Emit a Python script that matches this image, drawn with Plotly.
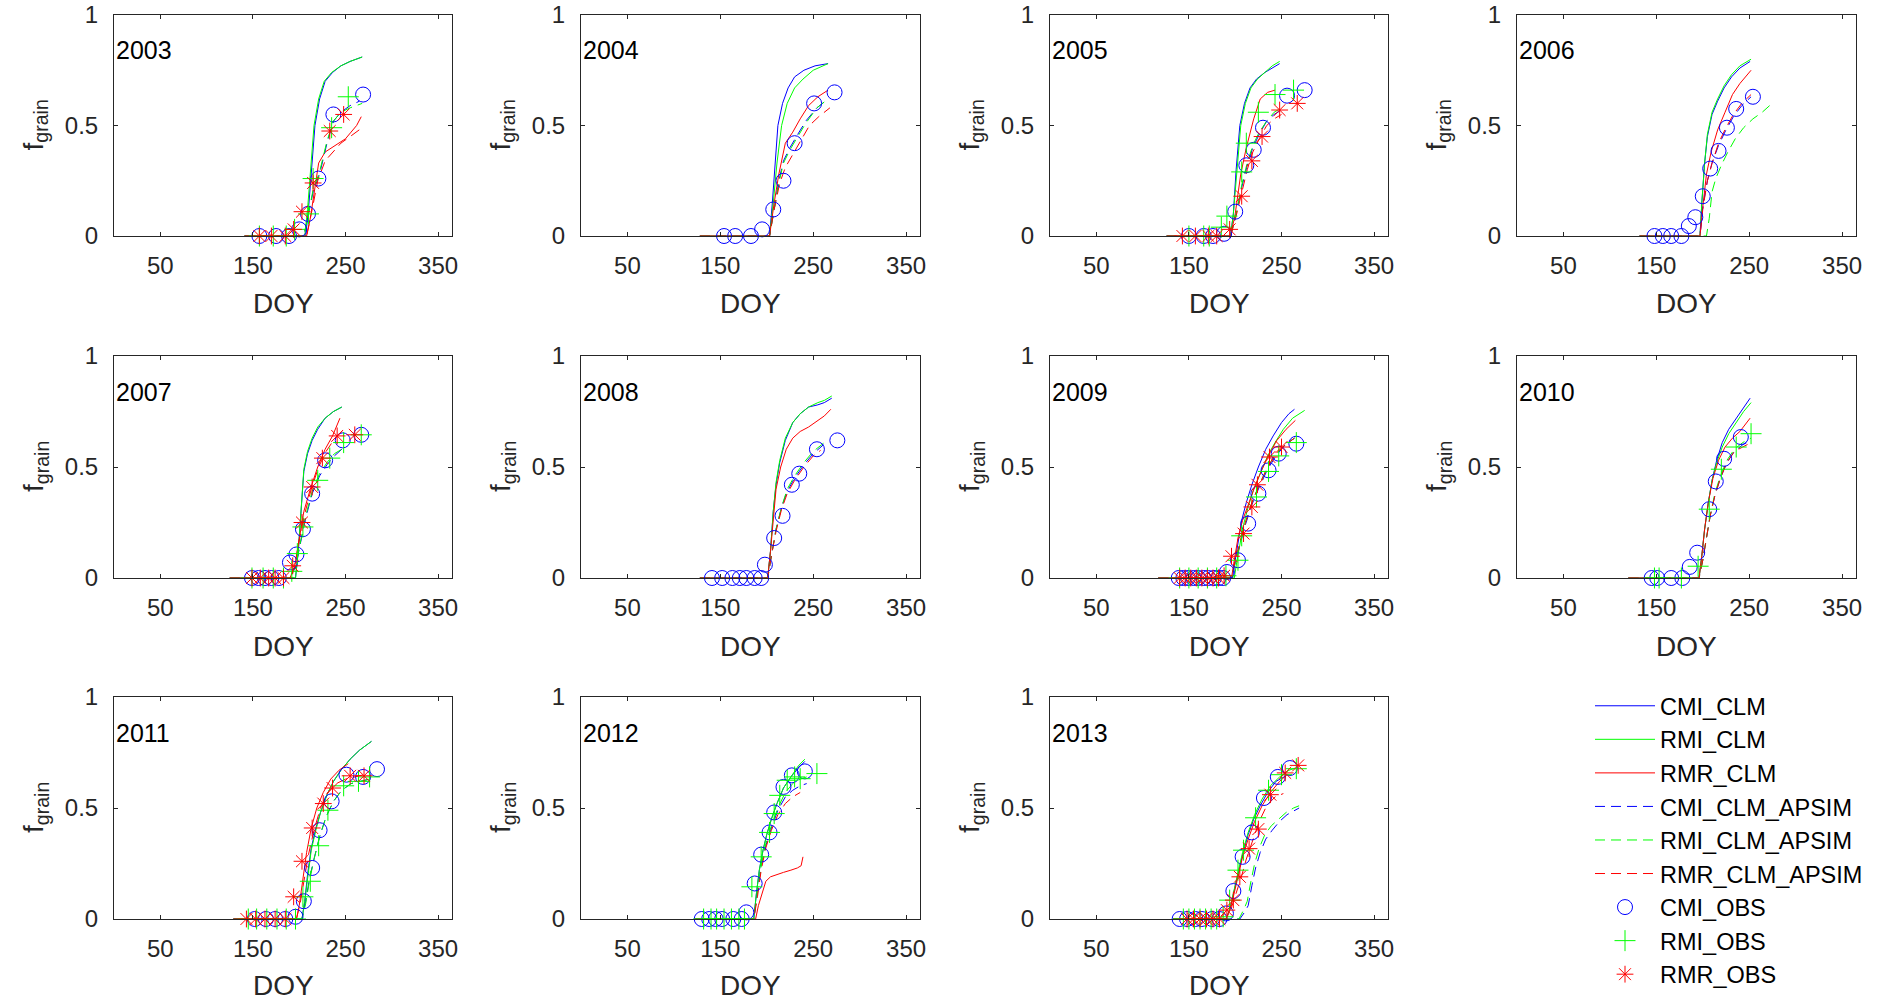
import plotly.graph_objects as go

# ---------------------------------------------------------------- data
YEARS = [2003, 2004, 2005, 2006, 2007, 2008, 2009, 2010, 2011, 2012, 2013]
X_TICKS = [50, 150, 250, 350]
Y_TICKS = [0, 0.5, 1]
Y_TICK_TEXT = ["0", "0.5", "1"]

# simulated grain fraction per year: (DOY list, f_grain list)
CMI_CLM = {
    2003: ([141, 207, 210, 213, 217, 222, 228, 236, 245, 255, 268], [0, 0, 0.12, 0.30, 0.50, 0.62, 0.70, 0.74, 0.77, 0.79, 0.81]),
    2004: ([128, 203, 206, 209, 212, 217, 223, 230, 240, 252, 266], [0, 0, 0.15, 0.35, 0.50, 0.60, 0.67, 0.72, 0.75, 0.77, 0.78]),
    2005: ([126, 195, 198, 201, 205, 210, 216, 223, 232, 240, 248], [0, 0, 0.10, 0.30, 0.50, 0.60, 0.67, 0.71, 0.74, 0.76, 0.78]),
    2006: ([132, 197, 199, 202, 205, 210, 216, 223, 231, 240, 251], [0, 0, 0.15, 0.33, 0.45, 0.55, 0.61, 0.67, 0.72, 0.76, 0.79]),
    2007: ([125, 196, 199, 202, 205, 209, 214, 220, 228, 237, 246], [0, 0, 0.12, 0.32, 0.48, 0.56, 0.62, 0.67, 0.72, 0.75, 0.77]),
    2008: ([128, 201, 204, 207, 210, 214, 220, 228, 236, 245, 255, 262, 270], [0, 0, 0.12, 0.30, 0.42, 0.52, 0.62, 0.70, 0.74, 0.77, 0.78, 0.79, 0.81]),
    2009: ([117, 197, 200, 203, 207, 212, 218, 225, 233, 241, 250, 258, 264], [0, 0, 0.08, 0.16, 0.26, 0.34, 0.42, 0.50, 0.58, 0.64, 0.70, 0.74, 0.76]),
    2010: ([120, 196, 199, 202, 206, 210, 215, 221, 228, 236, 244, 251], [0, 0, 0.10, 0.22, 0.34, 0.44, 0.53, 0.61, 0.67, 0.72, 0.77, 0.81]),
    2011: ([129, 203, 206, 209, 213, 218, 223, 230, 237, 245, 255, 265, 278], [0, 0, 0.08, 0.20, 0.32, 0.41, 0.48, 0.56, 0.62, 0.67, 0.72, 0.76, 0.80]),
    2012: ([123, 186, 189, 192, 196, 200, 205, 211, 218, 226, 234, 241], [0, 0, 0.12, 0.22, 0.31, 0.38, 0.45, 0.52, 0.59, 0.64, 0.68, 0.71]),
    2013: ([133, 190, 194, 198, 203, 208, 214, 220, 227, 235, 244, 255], [0, 0, 0.04, 0.11, 0.20, 0.29, 0.38, 0.45, 0.51, 0.57, 0.62, 0.645]),
}
RMI_CLM = {
    2003: ([141, 206, 209, 212, 216, 221, 227, 235, 245, 255, 268], [0, 0, 0.12, 0.30, 0.50, 0.62, 0.70, 0.74, 0.77, 0.79, 0.81]),
    2004: ([128, 203, 207, 211, 216, 222, 230, 239, 250, 266], [0, 0, 0.15, 0.33, 0.50, 0.60, 0.67, 0.71, 0.75, 0.78]),
    2005: ([126, 195, 198, 202, 206, 211, 217, 224, 232, 240, 248], [0, 0, 0.10, 0.30, 0.50, 0.60, 0.67, 0.71, 0.74, 0.77, 0.79]),
    2006: ([132, 197, 199, 202, 205, 210, 216, 223, 231, 240, 252], [0, 0, 0.15, 0.33, 0.46, 0.56, 0.62, 0.68, 0.73, 0.77, 0.80]),
    2007: ([125, 196, 199, 202, 205, 209, 214, 220, 228, 237, 246], [0, 0, 0.12, 0.32, 0.49, 0.57, 0.63, 0.68, 0.72, 0.75, 0.77]),
    2008: ([128, 201, 204, 207, 210, 214, 220, 228, 236, 245, 255, 262, 270], [0, 0, 0.12, 0.30, 0.43, 0.53, 0.63, 0.70, 0.74, 0.77, 0.79, 0.80, 0.82]),
    2009: ([117, 199, 202, 205, 209, 214, 220, 227, 235, 243, 252, 262, 275], [0, 0, 0.08, 0.15, 0.24, 0.32, 0.40, 0.47, 0.55, 0.61, 0.67, 0.72, 0.755]),
    2010: ([120, 196, 199, 202, 206, 210, 215, 221, 228, 236, 244, 252], [0, 0, 0.10, 0.22, 0.34, 0.44, 0.52, 0.59, 0.65, 0.70, 0.75, 0.79]),
    2011: ([129, 203, 206, 209, 213, 218, 223, 230, 237, 245, 255, 265, 278], [0, 0, 0.08, 0.19, 0.31, 0.40, 0.48, 0.56, 0.62, 0.67, 0.72, 0.76, 0.80]),
    2012: ([123, 186, 189, 192, 196, 200, 205, 211, 218, 226, 234, 241], [0, 0, 0.12, 0.22, 0.31, 0.38, 0.45, 0.52, 0.59, 0.64, 0.69, 0.72]),
    2013: ([133, 190, 194, 198, 203, 208, 214, 221, 229, 238, 248, 258, 265], [0, 0, 0.04, 0.11, 0.21, 0.30, 0.39, 0.47, 0.54, 0.60, 0.64, 0.67, 0.68]),
}
RMR_CLM = {
    2003: ([141, 208, 212, 216, 221, 228, 235, 242, 250, 256, 262, 267], [0, 0, 0.08, 0.20, 0.33, 0.38, 0.40, 0.42, 0.44, 0.47, 0.50, 0.54]),
    2004: ([128, 203, 208, 213, 220, 228, 236, 245, 255, 266], [0, 0, 0.15, 0.28, 0.42, 0.47, 0.53, 0.59, 0.63, 0.66]),
    2005: ([126, 195, 200, 206, 212, 216, 220, 227, 235, 243], [0, 0, 0.10, 0.28, 0.40, 0.47, 0.53, 0.62, 0.65, 0.66]),
    2006: ([132, 197, 200, 204, 209, 216, 224, 232, 240, 252], [0, 0, 0.13, 0.28, 0.38, 0.48, 0.56, 0.64, 0.69, 0.75]),
    2007: ([125, 190, 195, 200, 205, 212, 220, 228, 236, 244], [0, 0, 0.05, 0.18, 0.30, 0.40, 0.50, 0.58, 0.64, 0.72]),
    2008: ([128, 201, 204, 207, 210, 215, 221, 228, 236, 245, 255, 262, 269], [0, 0, 0.12, 0.28, 0.40, 0.50, 0.58, 0.63, 0.66, 0.68, 0.71, 0.73, 0.76]),
    2009: ([117, 196, 199, 203, 208, 214, 221, 229, 237, 245, 255, 265], [0, 0, 0.08, 0.18, 0.26, 0.33, 0.41, 0.49, 0.56, 0.62, 0.67, 0.71]),
    2010: ([120, 196, 199, 202, 206, 211, 217, 224, 232, 240, 251], [0, 0, 0.10, 0.22, 0.34, 0.45, 0.53, 0.59, 0.63, 0.66, 0.72]),
    2011: ([129, 197, 200, 204, 208, 213, 219, 226, 234, 243, 253], [0, 0, 0.06, 0.18, 0.30, 0.41, 0.50, 0.57, 0.63, 0.67, 0.70]),
    2012: ([123, 188, 191, 195, 199, 204, 210, 218, 226, 233, 237, 239], [0, 0, 0.06, 0.12, 0.17, 0.19, 0.20, 0.21, 0.22, 0.23, 0.24, 0.28]),
    2013: ([133, 190, 194, 198, 203, 208, 214, 221, 229, 238, 248, 256], [0, 0, 0.04, 0.10, 0.19, 0.28, 0.36, 0.44, 0.51, 0.57, 0.62, 0.65]),
}
CMI_CLM_APSIM = {
    2003: ([141, 205, 210, 215, 222, 230, 237, 245, 255, 265], [0, 0, 0.10, 0.20, 0.28, 0.42, 0.52, 0.56, 0.59, 0.61]),
    2004: ([128, 203, 208, 213, 218, 225, 232, 242, 254, 266], [0, 0, 0.12, 0.25, 0.34, 0.40, 0.45, 0.52, 0.58, 0.62]),
    2005: ([126, 195, 201, 207, 213, 219, 226, 234, 242, 250], [0, 0, 0.10, 0.22, 0.32, 0.40, 0.46, 0.52, 0.55, 0.57]),
    2006: ([132, 197, 200, 205, 210, 217, 225, 233, 242, 252], [0, 0, 0.13, 0.25, 0.33, 0.41, 0.48, 0.54, 0.59, 0.63]),
    2007: ([125, 190, 196, 201, 207, 214, 222, 230, 238, 246], [0, 0, 0.05, 0.15, 0.27, 0.38, 0.46, 0.51, 0.55, 0.58]),
    2008: ([128, 201, 205, 210, 216, 222, 230, 240, 250, 261], [0, 0, 0.10, 0.22, 0.32, 0.39, 0.45, 0.51, 0.56, 0.60]),
    2009: ([117, 196, 200, 205, 211, 218, 226, 235, 244, 254, 264], [0, 0, 0.07, 0.15, 0.24, 0.33, 0.41, 0.49, 0.55, 0.60, 0.63]),
    2010: ([120, 196, 200, 204, 208, 213, 219, 226, 234, 243, 252], [0, 0, 0.08, 0.18, 0.28, 0.37, 0.45, 0.52, 0.57, 0.60, 0.62]),
    2011: ([129, 203, 207, 211, 216, 222, 229, 237, 246, 256, 266, 276], [0, 0, 0.08, 0.18, 0.27, 0.37, 0.46, 0.53, 0.58, 0.61, 0.62, 0.63]),
    2012: ([123, 186, 190, 194, 199, 205, 212, 220, 228, 236, 243], [0, 0, 0.12, 0.24, 0.33, 0.41, 0.49, 0.55, 0.58, 0.60, 0.61]),
    2013: ([133, 205, 210, 214, 218, 222, 227, 233, 240, 248, 256, 264, 269], [0, 0, 0.03, 0.06, 0.15, 0.23, 0.30, 0.36, 0.40, 0.44, 0.47, 0.49, 0.50]),
}
RMI_CLM_APSIM = {
    2003: ([141, 205, 210, 215, 222, 230, 237, 245, 255, 268], [0, 0, 0.10, 0.21, 0.29, 0.43, 0.52, 0.56, 0.58, 0.60]),
    2004: ([128, 203, 208, 213, 218, 225, 232, 242, 254, 266], [0, 0, 0.12, 0.24, 0.33, 0.39, 0.44, 0.51, 0.58, 0.62]),
    2005: ([126, 195, 201, 207, 213, 219, 226, 234, 242, 250], [0, 0, 0.10, 0.23, 0.33, 0.41, 0.47, 0.52, 0.56, 0.58]),
    2006: ([132, 204, 207, 210, 214, 220, 227, 235, 244, 254, 264, 272], [0, 0, 0.08, 0.20, 0.26, 0.32, 0.38, 0.44, 0.49, 0.53, 0.56, 0.59]),
    2007: ([125, 190, 196, 201, 207, 214, 222, 230, 238, 246], [0, 0, 0.05, 0.16, 0.28, 0.39, 0.47, 0.52, 0.56, 0.58]),
    2008: ([128, 201, 205, 210, 216, 222, 230, 240, 250, 262], [0, 0, 0.10, 0.22, 0.32, 0.40, 0.46, 0.52, 0.57, 0.61]),
    2009: ([117, 196, 200, 205, 211, 218, 226, 235, 244, 254, 264], [0, 0, 0.07, 0.15, 0.25, 0.34, 0.42, 0.50, 0.56, 0.60, 0.63]),
    2010: ([120, 196, 200, 204, 208, 213, 219, 226, 234, 243, 252], [0, 0, 0.08, 0.18, 0.28, 0.38, 0.46, 0.53, 0.58, 0.61, 0.63]),
    2011: ([129, 203, 207, 211, 216, 222, 229, 237, 246, 256, 266, 276], [0, 0, 0.07, 0.17, 0.27, 0.37, 0.46, 0.53, 0.58, 0.61, 0.62, 0.63]),
    2012: ([123, 186, 190, 194, 199, 205, 212, 220, 228, 236, 243], [0, 0, 0.12, 0.24, 0.34, 0.42, 0.50, 0.57, 0.61, 0.63, 0.64]),
    2013: ([133, 204, 209, 213, 217, 221, 226, 232, 239, 247, 255, 263, 269], [0, 0, 0.04, 0.08, 0.17, 0.25, 0.32, 0.38, 0.42, 0.45, 0.48, 0.50, 0.51]),
}
RMR_CLM_APSIM = {
    2003: ([141, 208, 214, 220, 228, 236, 245, 255, 268], [0, 0, 0.12, 0.25, 0.34, 0.38, 0.42, 0.45, 0.49]),
    2004: ([128, 203, 208, 214, 220, 228, 236, 246, 256, 268], [0, 0, 0.12, 0.24, 0.31, 0.37, 0.43, 0.50, 0.54, 0.58]),
    2005: ([126, 195, 201, 207, 213, 219, 226, 234, 242, 250], [0, 0, 0.09, 0.20, 0.30, 0.38, 0.44, 0.50, 0.53, 0.55]),
    2006: ([132, 197, 200, 205, 210, 217, 225, 233, 242, 252], [0, 0, 0.12, 0.25, 0.33, 0.42, 0.49, 0.55, 0.60, 0.64]),
    2007: ([125, 190, 195, 200, 206, 213, 221, 229, 237, 246], [0, 0, 0.05, 0.17, 0.29, 0.40, 0.50, 0.57, 0.62, 0.66]),
    2008: ([128, 201, 205, 210, 216, 222, 230, 240, 250, 258], [0, 0, 0.10, 0.21, 0.31, 0.38, 0.44, 0.50, 0.55, 0.575]),
    2009: ([117, 196, 200, 205, 211, 218, 226, 235, 244, 254, 264], [0, 0, 0.08, 0.16, 0.25, 0.34, 0.42, 0.50, 0.56, 0.60, 0.63]),
    2010: ([120, 196, 200, 204, 208, 213, 219, 226, 234, 243, 252], [0, 0, 0.08, 0.18, 0.28, 0.37, 0.45, 0.52, 0.57, 0.59, 0.61]),
    2011: ([129, 197, 201, 205, 210, 216, 223, 231, 240, 250, 260, 270], [0, 0, 0.07, 0.17, 0.29, 0.40, 0.50, 0.57, 0.61, 0.63, 0.64, 0.65]),
    2012: ([123, 186, 190, 194, 199, 205, 212, 220, 228, 236], [0, 0, 0.10, 0.22, 0.32, 0.40, 0.47, 0.52, 0.55, 0.57]),
    2013: ([133, 190, 195, 200, 206, 212, 219, 226, 234, 243, 252], [0, 0, 0.04, 0.10, 0.18, 0.27, 0.36, 0.44, 0.51, 0.55, 0.565]),
}

# field observations per year: (DOY list, f_grain list)
CMI_OBS = {
    2003: ([157, 175, 189, 200, 209.5, 220.7, 236.9, 269], [0, 0, 0, 0.03, 0.10, 0.26, 0.55, 0.64]),
    2004: ([154, 166, 183, 195, 207, 218, 230, 251, 273], [0, 0, 0, 0.03, 0.12, 0.25, 0.42, 0.60, 0.65]),
    2005: ([150, 166, 176, 188, 200, 212, 220, 230, 256, 275], [0, 0, 0, 0.01, 0.11, 0.32, 0.39, 0.49, 0.635, 0.66]),
    2006: ([148, 157, 166, 177, 185, 192, 200, 208, 217, 226, 236, 254], [0, 0, 0, 0, 0.045, 0.085, 0.18, 0.305, 0.385, 0.49, 0.575, 0.63]),
    2007: ([149, 156, 163, 170, 178, 190, 197, 204, 214, 228, 247, 267], [0, 0, 0, 0, 0, 0.07, 0.106, 0.22, 0.38, 0.53, 0.62, 0.645]),
    2008: ([141, 152, 163, 171, 178, 187, 194, 198, 208, 217, 227, 235, 254, 276], [0, 0, 0, 0, 0, 0, 0, 0.06, 0.18, 0.28, 0.42, 0.47, 0.58, 0.62]),
    2009: ([139, 144, 149, 155, 160, 166, 171, 177, 182, 187, 191, 203, 214, 225, 236, 247, 266], [0, 0, 0, 0, 0, 0, 0, 0, 0, 0, 0.027, 0.08, 0.245, 0.38, 0.485, 0.56, 0.605]),
    2010: ([145, 151, 166, 178, 186, 194, 207, 214, 223, 241], [0, 0, 0, 0, 0.05, 0.114, 0.31, 0.435, 0.537, 0.635]),
    2011: ([152, 164, 174, 185, 196, 205, 214, 222, 235, 251, 269, 284], [0, 0, 0, 0, 0.01, 0.08, 0.23, 0.40, 0.53, 0.65, 0.64, 0.675]),
    2012: ([130, 138, 145, 152, 164, 173, 178, 187, 194, 203, 208, 218, 227, 241], [0, 0, 0, 0, 0, 0, 0.03, 0.16, 0.29, 0.39, 0.48, 0.595, 0.647, 0.665]),
    2013: ([140, 148, 157, 164, 175, 183, 190, 198, 208, 218, 231, 246, 259], [0, 0, 0, 0, 0, 0, 0.025, 0.126, 0.28, 0.39, 0.545, 0.64, 0.68]),
}
RMI_OBS = {
    2003: ([157, 172, 186, 195, 210, 215, 235, 253], [0, 0, 0, 0.03, 0.10, 0.26, 0.49, 0.63]),
    2005: ([150, 166, 172, 185, 191, 207, 212, 225, 243, 263], [0, 0, 0, 0.04, 0.09, 0.29, 0.42, 0.56, 0.64, 0.66]),
    2007: ([149, 161, 172, 183, 192, 198, 204, 220, 233, 248, 267], [0, 0, 0, 0, 0.03, 0.11, 0.23, 0.44, 0.54, 0.61, 0.645]),
    2009: ([140, 150, 160, 170, 180, 190, 203, 207, 223, 236, 247, 266], [0, 0, 0, 0, 0, 0.01, 0.08, 0.19, 0.365, 0.48, 0.55, 0.61]),
    2010: ([148, 153, 177, 195, 207, 220, 236, 252], [0, 0, 0, 0.053, 0.31, 0.49, 0.59, 0.65]),
    2011: ([145, 154, 165, 176, 186, 196, 204, 212, 221, 231, 248, 264, 276], [0, 0, 0, 0, 0, 0, 0.10, 0.17, 0.33, 0.49, 0.60, 0.62, 0.64]),
    2012: ([132, 140, 146, 154, 162, 170, 176, 184, 194, 203, 208, 214, 222, 230, 236, 254], [0, 0, 0, 0, 0, 0, 0, 0.145, 0.28, 0.39, 0.475, 0.557, 0.625, 0.64, 0.632, 0.655]),
    2013: ([144, 150, 156, 162, 168, 174, 180, 187, 194, 203, 209, 222, 236, 250, 266], [0, 0, 0, 0, 0, 0, 0, 0.01, 0.085, 0.22, 0.31, 0.456, 0.58, 0.65, 0.677]),
}
RMR_OBS = {
    2003: ([157, 170, 185, 194, 203, 215, 233, 248], [0, 0, 0, 0.03, 0.11, 0.24, 0.475, 0.55]),
    2005: ([143, 157, 171, 180, 194, 207, 218, 229, 248, 267], [0, 0, 0, 0, 0.03, 0.18, 0.34, 0.45, 0.57, 0.60]),
    2007: ([149, 158, 167, 174, 183, 193, 203, 214, 225, 241, 260], [0, 0, 0, 0, 0, 0.055, 0.25, 0.41, 0.54, 0.64, 0.645]),
    2009: ([140, 146, 152, 158, 164, 170, 176, 182, 188, 196, 209, 218, 224, 237, 250], [0, 0, 0, 0, 0, 0, 0, 0, 0.01, 0.098, 0.20, 0.32, 0.42, 0.545, 0.59]),
    2011: ([143, 153, 163, 174, 185, 194, 203, 214, 226, 236, 255, 270], [0, 0, 0, 0, 0, 0.10, 0.26, 0.41, 0.52, 0.59, 0.645, 0.645]),
    2013: ([148, 155, 162, 169, 176, 183, 191, 198, 205, 215, 225, 238, 254, 268], [0, 0, 0, 0, 0, 0, 0.04, 0.085, 0.19, 0.317, 0.405, 0.56, 0.658, 0.692]),
}

# ---------------------------------------------------------------- styling
BLUE, GREEN, RED = "#0000FF", "#00FF00", "#FF0000"
FONT = "Liberation Sans, Arial, Helvetica, sans-serif"
AX_COLOR = "#262626"
DASH = "10px,6px"

LINE_SERIES = [
    ("CMI_CLM", CMI_CLM, BLUE, "solid"),
    ("RMI_CLM", RMI_CLM, GREEN, "solid"),
    ("RMR_CLM", RMR_CLM, RED, "solid"),
    ("CMI_CLM_APSIM", CMI_CLM_APSIM, BLUE, DASH),
    ("RMI_CLM_APSIM", RMI_CLM_APSIM, GREEN, DASH),
    ("RMR_CLM_APSIM", RMR_CLM_APSIM, RED, DASH),
]
OBS_SERIES = [
    ("CMI_OBS", CMI_OBS, BLUE, "circle-open", 15),
    ("RMI_OBS", RMI_OBS, GREEN, "cross-thin-open", 15),
    ("RMR_OBS", RMR_OBS, RED, "asterisk-open", 14),
]

W, H = 1878, 1001
COL_PX = [(114, 452), (581, 920), (1050, 1388), (1517, 1856)]
ROW_PX = [(15, 236), (356, 578), (697, 919)]
DOY_GAP = [68, 68, 66]   # distance of the DOY caption below each row of panels

fig = go.Figure()
annotations = []
layout_axes = {}
shown = set()

for i, year in enumerate(YEARS):
    r, c = divmod(i, 4)
    n = i + 1
    xref = "x" if n == 1 else f"x{n}"
    yref = "y" if n == 1 else f"y{n}"
    x0, x1 = COL_PX[c]
    top, bot = ROW_PX[r]
    xdom = [x0 / W, x1 / W]
    ydom = [1 - bot / H, 1 - top / H]

    common = dict(
        showline=True, linecolor=AX_COLOR, linewidth=1, mirror="ticks",
        ticks="inside", ticklen=4, tickwidth=1, tickcolor=AX_COLOR,
        showgrid=False, zeroline=False, fixedrange=True, automargin=False,
        tickfont=dict(family=FONT, size=24, color=AX_COLOR),
    )
    layout_axes["xaxis" if n == 1 else f"xaxis{n}"] = dict(
        common, domain=xdom, anchor=yref, range=[0, 365],
        tickmode="array", tickvals=X_TICKS, ticklabelstandoff=8,
    )
    layout_axes["yaxis" if n == 1 else f"yaxis{n}"] = dict(
        common, domain=ydom, anchor=xref, range=[0, 1],
        tickmode="array", tickvals=Y_TICKS, ticktext=Y_TICK_TEXT,
        ticklabelstandoff=10,
    )

    for name, data, color, dash in LINE_SERIES:
        doy, val = data[year]
        fig.add_trace(go.Scatter(
            x=doy, y=val, mode="lines", name=name, legendgroup=name,
            showlegend=name not in shown,
            line=dict(color=color, width=1, dash=dash),
            xaxis=xref, yaxis=yref, cliponaxis=False,
        ))
        shown.add(name)

    for name, data, color, symbol, size in OBS_SERIES:
        if year not in data:
            continue
        doy, val = data[year]
        fig.add_trace(go.Scatter(
            x=doy, y=val, mode="markers", name=name, legendgroup=name,
            showlegend=name not in shown,
            marker=dict(symbol=symbol, size=size, color=color,
                        line=dict(color=color, width=1)),
            xaxis=xref, yaxis=yref, cliponaxis=False,
        ))
        shown.add(name)

    # year label inside the panel
    annotations.append(dict(
        x=0, y=0.84, xref=xref, yref=yref, text=str(year), showarrow=False,
        xanchor="left", yanchor="middle",
        font=dict(family=FONT, size=25, color="#000000"),
    ))
    # x axis title
    annotations.append(dict(
        x=(x0 + x1) / 2 / W, y=1 - (bot + DOY_GAP[r]) / H, xref="paper", yref="paper",
        text="DOY", showarrow=False, xanchor="center", yanchor="middle",
        font=dict(family=FONT, size=28, color=AX_COLOR),
    ))
    # y axis title
    annotations.append(dict(
        x=(x0 - 79) / W, y=1 - (top + bot) / 2 / H, xref="paper", yref="paper",
        text="f<sub>grain</sub>", showarrow=False, textangle=-90,
        xanchor="center", yanchor="middle",
        font=dict(family=FONT, size=28, color=AX_COLOR),
    ))

fig.update_layout(
    width=W, height=H,
    margin=dict(l=0, r=0, t=0, b=0, autoexpand=False),
    paper_bgcolor="white", plot_bgcolor="white",
    annotations=annotations,
    showlegend=True,
    legend=dict(
        x=1590 / W, y=1 - 684 / H, xanchor="left", yanchor="top",
        font=dict(family=FONT, size=23.5, color="#000000"),
        bgcolor="rgba(0,0,0,0)", borderwidth=0, tracegroupgap=0,
        itemwidth=60,
    ),
    **layout_axes,
)

fig.write_html("out.html")
